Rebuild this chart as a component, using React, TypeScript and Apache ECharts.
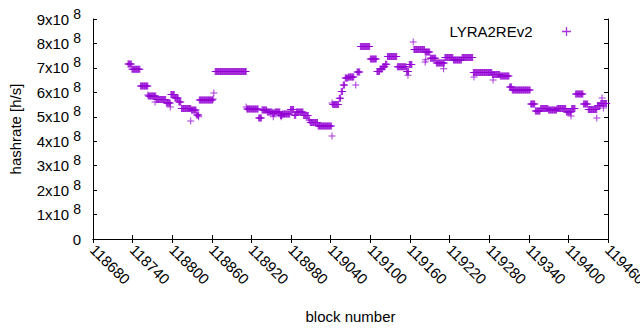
import React, { useEffect, useRef } from "react";
import * as echarts from "echarts";

// Runs of consecutive blocks sharing the same hashrate value
const runStart = [
  118733, 118739, 118752, 118764, 118776, 118791, 118798, 118804, 118810, 118814,
  118829, 118837, 118841, 118865, 118913, 118931, 118936, 118944, 118952, 118956,
  118964, 118967, 118979, 118985, 118988, 118999, 119007, 119009, 119021, 119043,
  119053, 119056, 119059, 119062, 119067, 119080, 119085, 119100, 119110, 119115,
  119119, 119123, 119126, 119141, 119155, 119159, 119166, 119183, 119191, 119200,
  119213, 119226, 119239, 119256, 119285, 119297, 119311, 119315, 119343, 119350,
  119358, 119370, 119383, 119397, 119405, 119411, 119423, 119430, 119444, 119449,
];
const runEnd = [
  118738, 118751, 118763, 118775, 118790, 118797, 118803, 118809, 118813, 118828,
  118836, 118840, 118861, 118912, 118930, 118935, 118943, 118951, 118955, 118963,
  118966, 118978, 118984, 118987, 118998, 119006, 119008, 119020, 119041, 119052,
  119055, 119058, 119061, 119066, 119075, 119084, 119099, 119109, 119114, 119118,
  119122, 119125, 119140, 119154, 119158, 119163, 119182, 119190, 119199, 119212,
  119225, 119238, 119255, 119284, 119296, 119310, 119314, 119342, 119349, 119357,
  119369, 119382, 119396, 119404, 119410, 119422, 119429, 119443, 119448, 119458,
];
const runValue = [
  7.16e8, 6.94e8, 6.26e8, 5.85e8, 5.71e8, 5.56e8, 5.91e8, 5.77e8, 5.6e8, 5.34e8,
  5.28e8, 5.07e8, 5.69e8, 6.85e8, 5.32e8, 4.95e8, 5.28e8, 5.2e8, 5.15e8, 5.2e8,
  5.05e8, 5.11e8, 5.3e8, 5.06e8, 5.2e8, 5.05e8, 4.87e8, 4.77e8, 4.62e8, 5.5e8,
  5.76e8, 6.03e8, 6.3e8, 6.59e8, 6.63e8, 6.83e8, 7.88e8, 7.36e8, 6.85e8, 6.95e8,
  7.05e8, 7.15e8, 7.47e8, 7.05e8, 6.85e8, 7.14e8, 7.75e8, 7.65e8, 7.39e8, 7.2e8,
  7.43e8, 7.32e8, 7.43e8, 6.81e8, 6.73e8, 6.67e8, 6.22e8, 6.1e8, 5.52e8, 5.24e8,
  5.34e8, 5.28e8, 5.34e8, 5.2e8, 5.34e8, 5.93e8, 5.52e8, 5.3e8, 5.46e8, 5.54e8,
];

// Isolated outlying points
const singleBlock = [
  118763, 118774, 118797, 118828, 118840, 118862, 118863, 118912, 118953, 118965,
  119042, 119042, 119078, 119157, 119165, 119183, 119184, 119211, 119257, 119286,
  119404, 119443, 119451, 119453,
];
const singleValue = [
  5.89e8, 5.6e8, 5.4e8, 4.83e8, 5.0e8, 5.73e8, 5.97e8, 5.4e8, 5.0e8, 5.0e8,
  4.21e8, 5.56e8, 6.3e8, 6.7e8, 8.06e8, 7.24e8, 7.33e8, 6.96e8, 6.63e8, 6.5e8,
  5.03e8, 4.95e8, 5.77e8, 5.36e8,
];

const xTickMin = 118680;
const xTickMax = 119460;
const xTickStep = 60;
const yTickMax = 9e8;
const yTickStep = 1e8;

const seriesName = "LYRA2REv2";
const COLOR = "#9400D3";
const FONT = "Liberation Sans, Arial, sans-serif";
const PLUS = "path://M0 3L7 3L7 4L0 4Z M3 0L4 0L4 7L3 7Z";

function buildPoints(): number[][] {
  const pts: number[][] = [];
  for (let i = 0; i < runStart.length; i++) {
    for (let b = runStart[i]; b <= runEnd[i]; b++) pts.push([b, runValue[i]]);
  }
  for (let i = 0; i < singleBlock.length; i++) pts.push([singleBlock[i], singleValue[i]]);
  return pts;
}

export default function App() {
  const ref = useRef<HTMLDivElement>(null);
  useEffect(() => {
    if (!ref.current) return;
    const chart = echarts.init(ref.current, null, { renderer: "svg" });
    const axisCommon = {
      axisLine: { show: true, lineStyle: { color: "#000", width: 1 } },
      axisTick: { show: true, inside: true, length: 4, lineStyle: { color: "#000" } },
      splitLine: { show: false },
    };
    chart.setOption({
      animation: false,
      backgroundColor: "#fff",
      grid: {
        left: 93,
        right: 32,
        top: 19,
        bottom: 91,
        containLabel: false,
        outerBoundsMode: "none",
      },
      legend: {
        data: [seriesName],
        top: 19,
        right: 64,
        align: "right",
        itemWidth: 58,
        itemHeight: 9,
        icon: PLUS,
        textStyle: { fontSize: 15, color: "#000", fontFamily: FONT },
      },
      xAxis: [
        {
          type: "value",
          min: xTickMin,
          max: xTickMax,
          interval: xTickStep,
          ...axisCommon,
          name: "block number",
          nameLocation: "middle",
          nameGap: 70,
          nameMoveOverlap: false,
          nameTextStyle: { fontSize: 15, color: "#000", fontFamily: FONT },
          axisLabel: {
            rotate: -45,
            margin: 8,
            fontSize: 15,
            color: "#000",
            fontFamily: FONT,
            showMaxLabel: true,
            showMinLabel: true,
            hideOverlap: false,
            formatter: (v: number) => String(v),
          },
        },
        {
          type: "value",
          position: "top",
          min: xTickMin,
          max: xTickMax,
          interval: xTickStep,
          ...axisCommon,
          axisLabel: { show: false },
        },
      ],
      yAxis: [
        {
          type: "value",
          min: 0,
          max: yTickMax,
          interval: yTickStep,
          ...axisCommon,
          name: "hashrate [h/s]",
          nameLocation: "middle",
          nameGap: 70,
          nameTextStyle: { fontSize: 15, color: "#000", fontFamily: FONT },
          axisLabel: {
            margin: 12,
            color: "#000",
            fontSize: 15,
            fontFamily: FONT,
            formatter: (v: number) =>
              v === 0 ? "{m|0}" : `{m|${Math.round(v / 1e8)}x10}{s|8}`,
            rich: {
              m: { fontSize: 15, color: "#000", fontFamily: FONT },
              s: { fontSize: 14, color: "#000", fontFamily: FONT, padding: [0, 0, 11, 4] },
            },
          },
        },
        {
          type: "value",
          position: "right",
          min: 0,
          max: yTickMax,
          interval: yTickStep,
          ...axisCommon,
          axisLabel: { show: false },
        },
      ],
      series: [
        {
          name: seriesName,
          type: "scatter",
          symbol: PLUS,
          symbolSize: 7,
          itemStyle: { color: COLOR },
          data: buildPoints(),
        },
      ],
    });
    return () => chart.dispose();
  }, []);
  return (
    <div
      ref={ref}
      style={{ position: "absolute", left: 0, top: 0, width: 640, height: 330 }}
    />
  );
}
